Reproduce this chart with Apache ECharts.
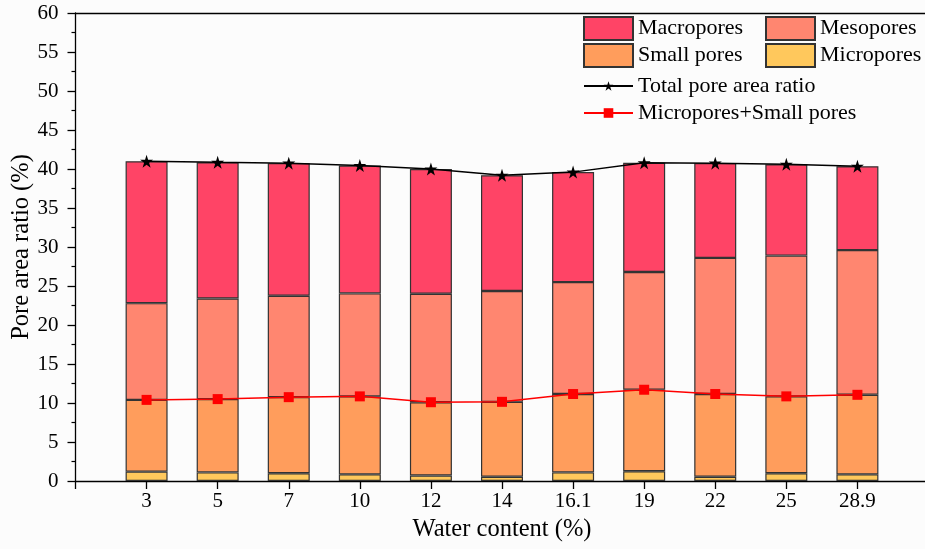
<!DOCTYPE html>
<html>
<head>
<meta charset="utf-8">
<script src="https://cdn.jsdelivr.net/npm/echarts@6/dist/echarts.min.js"></script>
<style>
  html, body { margin: 0; padding: 0; background: #fcfcfc; }
  #chart { width: 925px; height: 549px; }
</style>
</head>
<body>
<div id="chart"></div>
<script>
// Water content levels (x-axis tick labels)
const categories = ['3', '5', '7', '10', '12', '14', '16.1', '19', '22', '25', '28.9'];

// Pore area ratio (%) per pore class
const micropores  = [1.2, 1.1, 1.0, 0.85, 0.7, 0.55, 1.1, 1.25, 0.55, 1.0, 0.85];
const smallPores  = [9.2, 9.4, 9.75, 10.0, 9.4, 9.6, 10.05, 10.45, 10.6, 9.85, 10.2];
const mesopores   = [12.4, 12.9, 13.0, 13.2, 13.9, 14.2, 14.35, 15.1, 17.45, 18.05, 18.55];
const macropores  = [18.2, 17.45, 17.0, 16.4, 16.0, 14.85, 14.1, 14.0, 12.15, 11.7, 10.75];

// y-axis tick values
const yTicks = { min: 0, max: 60, step: 5 };

const round = v => Math.round(v * 100) / 100;
const microSmall = micropores.map((v, i) => round(v + smallPores[i]));
const totalArea = micropores.map((v, i) => round(v + smallPores[i] + mesopores[i] + macropores[i]));

// The axis runs one empty slot beyond the first and last water content,
// so pad the category list and every series with an empty entry at each end.
const axisCategories = [''].concat(categories, ['']);
const padded = arr => ['-'].concat(arr, ['-']);

const FONT = '"Liberation Serif", "Times New Roman", serif';
const STAR = 'path://M50,0 L61.2,34.5 L97.6,34.5 L68.2,55.9 L79.4,90.5 L50,69.1 L20.6,90.5 L31.8,55.9 L2.4,34.5 L38.8,34.5 Z';

const barBase = {
  type: 'bar',
  stack: 'pores',
  barWidth: 42,
  z: 2
};

const chart = echarts.init(document.getElementById('chart'), null, { renderer: 'canvas' });

const legendText = { fontFamily: FONT, fontSize: 22, color: '#000' };
const boxLegend = (name, left, top) => ({
  data: [{ name: name, icon: 'rect' }], left: left, top: top, orient: 'horizontal',
  itemWidth: 49, itemHeight: 23, itemGap: 0,
  textStyle: legendText, selectedMode: false, padding: 0
});
const lineLegend = (name, left, top) => ({
  data: [name], left: left, top: top, orient: 'horizontal',
  itemWidth: 49, itemHeight: 12, itemGap: 0,
  textStyle: legendText, selectedMode: false, padding: 0
});

const axisLineStyle = { color: '#000', width: 1.3 };
const nameStyle = { fontFamily: FONT, fontSize: 24.5, color: '#000' };

chart.setOption({
  backgroundColor: '#fcfcfc',
  animation: false,
  textStyle: { fontFamily: FONT },
  grid: {
    left: 75.5, top: 13, width: 853, height: 468,
    containLabel: false, outerBoundsMode: 'none'
  },
  legend: [
    boxLegend('Macropores', 583, 16),
    boxLegend('Mesopores', 765, 16),
    boxLegend('Small pores', 583, 43),
    boxLegend('Micropores', 765, 43),
    lineLegend('Total pore area ratio', 583, 75),
    lineLegend('Micropores+Small pores', 583, 102)
  ],
  xAxis: [{
    type: 'category',
    data: axisCategories,
    boundaryGap: false,
    name: 'Water content (%)',
    nameLocation: 'middle',
    nameGap: 33,
    nameTextStyle: nameStyle,
    axisLine: { show: true, onZero: false, lineStyle: axisLineStyle },
    axisTick: { show: true, inside: false, length: 8, interval: 0, lineStyle: axisLineStyle },
    axisLabel: { fontFamily: FONT, fontSize: 21, color: '#000', margin: 10, interval: 0 },
    splitLine: { show: false }
  }, {
    type: 'category',
    data: axisCategories,
    boundaryGap: false,
    position: 'top',
    axisLine: { show: true, onZero: false, lineStyle: axisLineStyle },
    axisTick: { show: false },
    axisLabel: { show: false },
    splitLine: { show: false }
  }],
  yAxis: {
    type: 'value',
    min: yTicks.min,
    max: yTicks.max,
    interval: yTicks.step,
    name: 'Pore area ratio (%)',
    nameLocation: 'middle',
    nameGap: 41,
    nameMoveOverlap: false,
    nameTextStyle: nameStyle,
    axisLine: { show: true, onZero: false, lineStyle: axisLineStyle },
    axisTick: { show: true, inside: false, length: 8, lineStyle: axisLineStyle },
    minorTick: { show: true, splitNumber: 2, length: 4, lineStyle: { color: '#000', width: 1.2 } },
    axisLabel: { fontFamily: FONT, fontSize: 21, color: '#000', margin: 17 },
    splitLine: { show: false }
  },
  series: [
    Object.assign({}, barBase, {
      name: 'Micropores',
      data: padded(micropores),
      itemStyle: { color: '#FFC85C', borderColor: '#333', borderWidth: 1.2 }
    }),
    Object.assign({}, barBase, {
      name: 'Small pores',
      data: padded(smallPores),
      itemStyle: { color: '#FF9D5C', borderColor: '#333', borderWidth: 1.2 }
    }),
    Object.assign({}, barBase, {
      name: 'Mesopores',
      data: padded(mesopores),
      itemStyle: { color: '#FF8670', borderColor: '#333', borderWidth: 1.2 }
    }),
    Object.assign({}, barBase, {
      name: 'Macropores',
      data: padded(macropores),
      itemStyle: { color: '#FF4466', borderColor: '#333', borderWidth: 1.2 }
    }),
    {
      name: 'Total pore area ratio',
      type: 'line',
      data: padded(totalArea),
      symbol: STAR,
      symbolSize: 13,
      itemStyle: { color: '#000' },
      lineStyle: { color: '#000', width: 1.5 },
      z: 5
    },
    {
      name: 'Micropores+Small pores',
      type: 'line',
      data: padded(microSmall),
      symbol: 'rect',
      symbolSize: 10,
      itemStyle: { color: '#FF0000' },
      lineStyle: { color: '#FF0000', width: 1.5 },
      z: 5
    }
  ]
});
</script>
</body>
</html>
